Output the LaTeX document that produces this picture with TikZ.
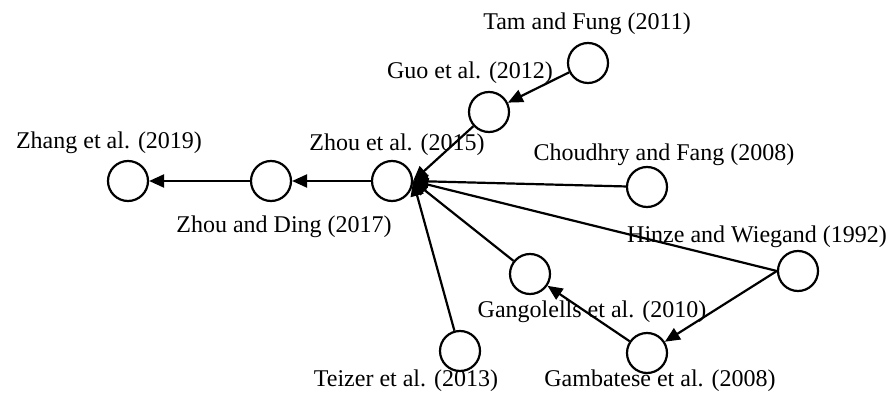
\documentclass[tikz,border=0pt]{standalone}
\usepackage{fontspec}
\setmainfont{Liberation Serif}
\usetikzlibrary{arrows.meta, positioning}

\begin{document}
\begin{tikzpicture}[x=0.5pt, y=-0.5pt,
    paper/.style={circle, draw, line width=1.1pt, minimum size=20pt, inner sep=0pt},
    cite/.style={font=\fontsize{12}{14}\selectfont, inner sep=0pt},
    link/.style={-{Triangle[length=7.5pt, width=6.5pt]}, line width=1.1pt}]
    % canvas
    \useasboundingbox (0,0) rectangle (893,395);

    % ---------------- papers ----------------
    \node[paper] (tam)   at (588, 63)  {};
    \node[paper] (guo)   at (489, 112) {};
    \node[paper] (zhou)  at (392, 181) {};
    \node[paper] (ding)  at (271, 181) {};
    \node[paper] (zhang) at (128, 181) {};
    \node[paper] (chou)  at (647, 187) {};
    \node[paper] (hinze) at (798, 271) {};
    \node[paper] (gang)  at (530, 274) {};
    \node[paper] (gamb)  at (647, 353) {};
    \node[paper] (teiz)  at (460, 351) {};

    % ---------------- labels ----------------
    \node[cite] (tamL)   at (587, 24)  {Tam and Fung (2011)};
    \node[cite] (guoL)   at (470, 73)  {Guo et al. (2012)};
    \node[cite] (zhouL)  at (397, 145) {Zhou et al. (2015)};
    \node[cite] (zhangL) at (109, 143) {Zhang et al. (2019)};
    \node[cite] (dingL)  at (284, 227) {Zhou and Ding (2017)};
    \node[cite] (chouL)  at (664, 155) {Choudhry and Fang (2008)};
    \node[cite] (hinzeL) at (757, 237) {Hinze and Wiegand (1992)};
    \node[cite] (gangL)  at (592, 312) {Gangolells et al. (2010)};
    \node[cite] (gambL)  at (660, 381) {Gambatese et al. (2008)};
    \node[cite] (teizL)  at (406, 381) {Teizer et al. (2013)};

    % ---------------- citations ----------------
    \draw[link] (tam) -- (guo);
    \draw[link] (guo) -- (zhou.east);
    \draw[link] (chou) -- (zhou.east);
    \draw[link] (hinze.west) -- (zhou.east);
    \draw[link] (gang) -- (zhou.east);
    \draw[link] (teiz) -- (zhou.east);
    \draw[link] (zhou) -- (ding);
    \draw[link] (ding) -- (zhang);
    \draw[link] (hinze.west) -- (gamb);
    \draw[link] (gamb) -- (gang);
\end{tikzpicture}
\end{document}
